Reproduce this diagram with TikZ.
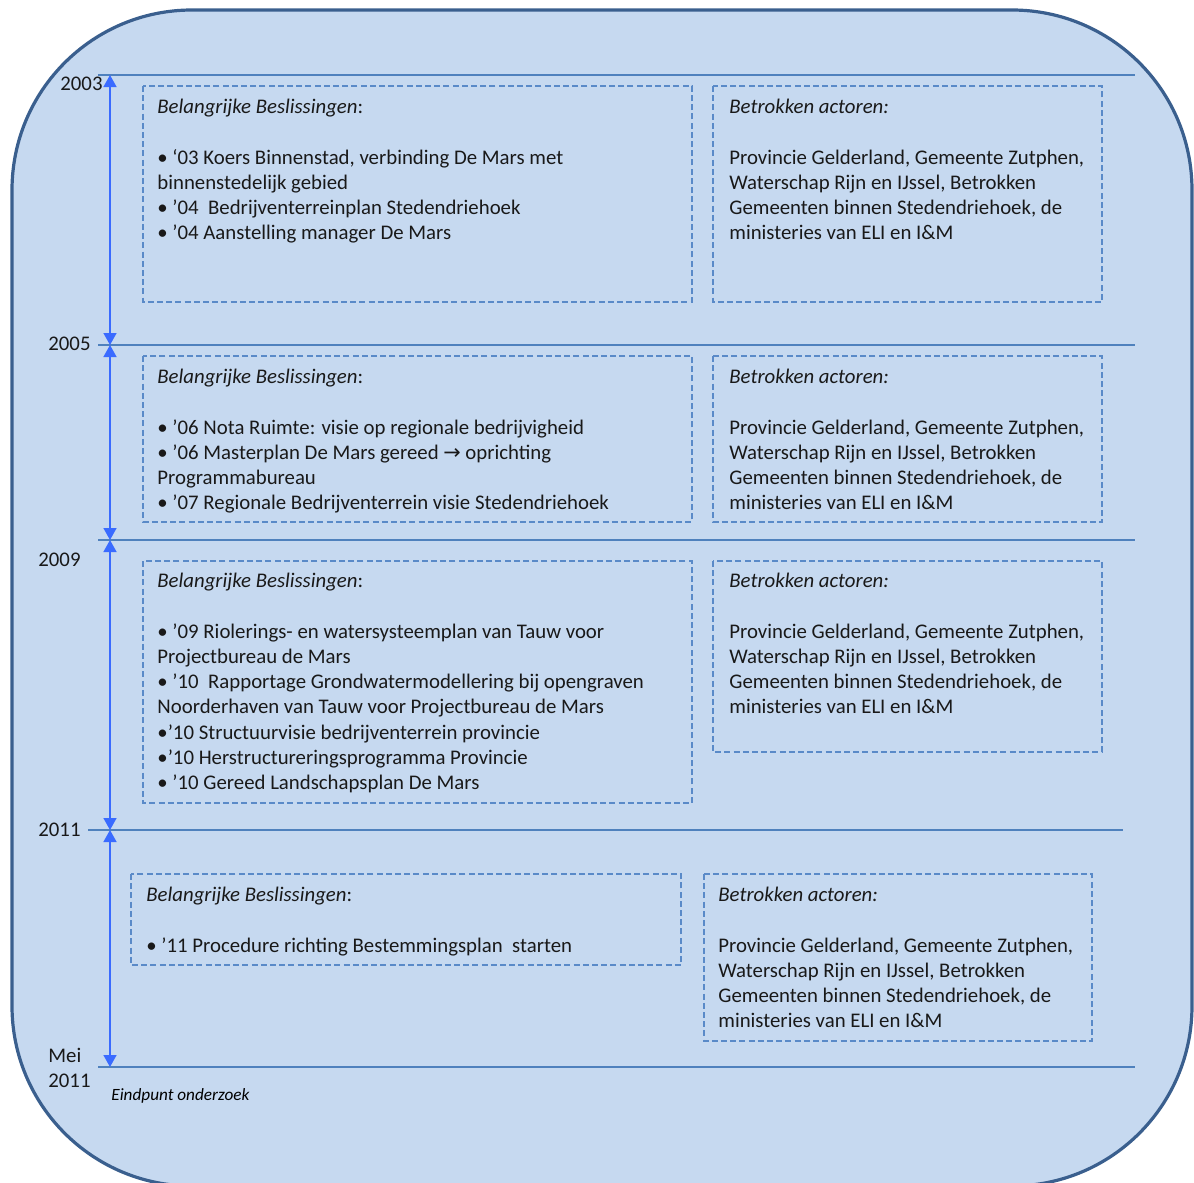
\documentclass[tikz,border=0pt]{standalone}
\usepackage{fontspec}
\setmainfont{Carlito}
\newfontfamily\pijlfont{DejaVu Sans}
\usetikzlibrary{arrows.meta}
\definecolor{vlak}{HTML}{C6D9F0}
\definecolor{rand}{HTML}{3A5F8E}
\definecolor{lijnblauw}{HTML}{4F81BD}
\definecolor{pijlblauw}{HTML}{3A6BFF}
\definecolor{kaderblauw}{HTML}{5A8AC8}
\newcommand{\actoren}{\textit{Betrokken actoren:}\\[12.6pt]
Provincie Gelderland, Gemeente Zutphen,\\
Waterschap Rijn en IJssel, Betrokken\\
Gemeenten binnen Stedendriehoek, de\\
ministeries van ELI en I\&M}
\newcommand{\beslis}{\textit{Belangrijke Beslissingen}:\\[12.6pt]}
\tikzset{
jaarlijn/.style={draw=lijnblauw,line width=0.75pt},
pijl/.style={draw=pijlblauw,line width=0.75pt,<->},
kader/.style={draw=kaderblauw,line width=0.6pt,dash pattern=on 3pt off 1.6pt},
tekst/.style={anchor=north west,inner sep=0pt,align=left,text=black!90,font=\fontsize{10.4}{12.6}\selectfont},
jaar/.style={anchor=west,inner sep=0pt,align=left,text=black!90,font=\fontsize{10.4}{12.6}\selectfont}
}
\begin{document}
\begin{tikzpicture}[x=0.5pt,y=-0.5pt,>={Triangle[width=6.5pt,length=6pt]}]
\useasboundingbox (0,0) rectangle (1194,1183);
\draw[fill=vlak,draw=rand,line width=1.6pt,rounded corners=90pt](12,10) rectangle (1192,1186);
% jaren
\draw[jaarlijn](98,75)--(1135,75);
\draw[jaarlijn](98,345)--(1135,345);
\draw[jaarlijn](98,540)--(1135,540);
\draw[jaarlijn](88,830)--(1123,830);
\draw[jaarlijn](98,1067)--(1135,1067);
\coordinate (t03) at (110,75);
\coordinate (t05) at (110,345);
\coordinate (t09) at (110,540);
\coordinate (t11) at (110,830);
\coordinate (tmei) at (110,1067);
\draw[pijl](t03)--(t05);
\draw[pijl](t05)--(t09);
\draw[pijl](t09)--(t11);
\draw[pijl](t11)--(tmei);
\node[jaar] (j03) at (60,84) {2003};
\node[jaar] (j05) at (48,344) {2005};
\node[jaar] (j09) at (38,560) {2009};
\node[jaar] (j11) at (38,830) {2011};
\node[jaar] (jmei) at (48,1068) {Mei\\2011};
\node[anchor=west,inner sep=0pt,font=\fontsize{8.6}{9}\selectfont\itshape] (eind) at (111,1096) {Eindpunt onderzoek};
% 2003-2005
\draw[kader](143,86) rectangle (692,302);
\draw[kader](713,86) rectangle (1102,302);
\node[tekst] (bes03) at (157,99) {\beslis
• ‘03 Koers Binnenstad, verbinding De Mars met\\
binnenstedelijk gebied\\
• ’04~~Bedrijventerreinplan Stedendriehoek\\
• ’04 Aanstelling manager De Mars};
\node[tekst] (act03) at (729,99) {\actoren};
% 2005-2009
\draw[kader](143,356) rectangle (692,522);
\draw[kader](713,356) rectangle (1102,522);
\node[tekst] (bes05) at (157,369) {\beslis
• ’06 Nota Ruimte: visie op regionale bedrijvigheid\\
• ’06 Masterplan De Mars gereed {\pijlfont→} oprichting\\
Programmabureau\\
• ’07 Regionale Bedrijventerrein visie Stedendriehoek};
\node[tekst] (act05) at (729,369) {\actoren};
% 2009-2011
\draw[kader](143,561) rectangle (692,803);
\draw[kader](713,561) rectangle (1102,752);
\node[tekst] (bes09) at (157,573) {\beslis
• ’09 Riolerings- en watersysteemplan van Tauw voor\\
Projectbureau de Mars\\
• ’10~~Rapportage Grondwatermodellering bij opengraven\\
Noorderhaven van Tauw voor Projectbureau de Mars\\
•’10 Structuurvisie bedrijventerrein provincie\\
•’10 Herstructureringsprogramma Provincie\\
• ’10 Gereed Landschapsplan De Mars};
\node[tekst] (act09) at (729,573) {\actoren};
% 2011-mei 2011
\draw[kader](131,874) rectangle (681,965);
\draw[kader](704,874) rectangle (1092,1041);
\node[tekst] (bes11) at (146,887) {\beslis
• ’11 Procedure richting Bestemmingsplan~~starten};
\node[tekst] (act11) at (718,887) {\actoren};
\end{tikzpicture}
\end{document}
